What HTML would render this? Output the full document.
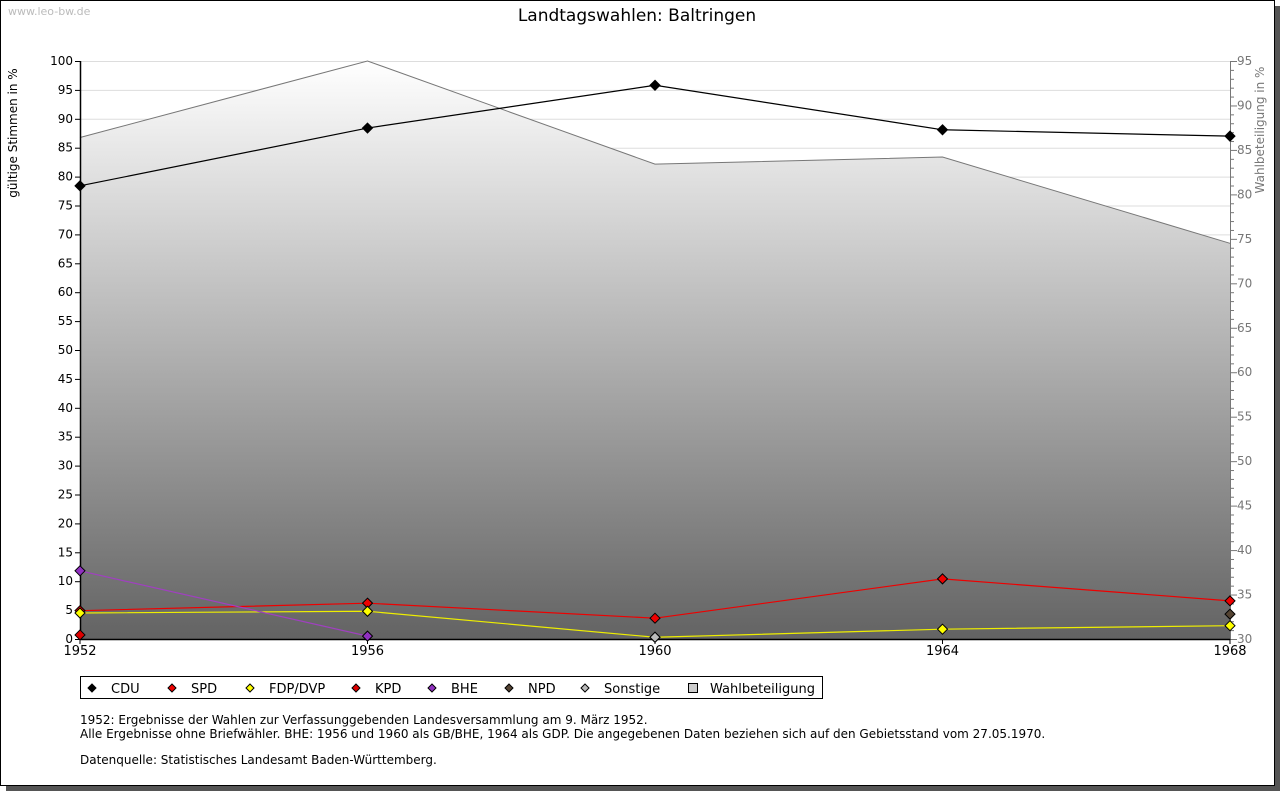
<!DOCTYPE html>
<html><head><meta charset="utf-8"><style>
body{margin:0;background:#fff;width:1280px;height:791px;overflow:hidden;font-family:"DejaVu Sans","Liberation Sans",sans-serif}
svg text{font-family:"DejaVu Sans","Liberation Sans",sans-serif}
</style></head><body>
<svg id="c" width="1280" height="791">
<defs><linearGradient id="g" x1="0" y1="61" x2="0" y2="639" gradientUnits="userSpaceOnUse"><stop offset="0" stop-color="#ffffff"/><stop offset="1" stop-color="#636363"/></linearGradient></defs>
<rect x="6" y="6" width="1274" height="785" fill="#555"/>
<rect x="0.5" y="0.5" width="1274" height="785" fill="#fff" stroke="#000"/>
<text x="8" y="15" font-size="11" fill="#bbb">www.leo-bw.de</text>
<text x="637" y="21" font-size="17" text-anchor="middle">Landtagswahlen: Baltringen</text>
<g id="grid"></g>
<g id="area"></g>
<g id="axes"></g>
<g id="series"></g>
<text transform="translate(17,133) rotate(-90)" font-size="12" text-anchor="middle">gültige Stimmen in %</text>
<text transform="translate(1264,130) rotate(-90)" font-size="12" fill="#777" text-anchor="middle">Wahlbeteiligung in %</text>
<g>
<rect x="80.5" y="676.5" width="742" height="22" fill="#fff" stroke="#000"/>
<g id="legend"></g>
</g>
<text x="80" y="724" font-size="12">1952: Ergebnisse der Wahlen zur Verfassunggebenden Landesversammlung am 9. März 1952.</text>
<text x="80" y="738" font-size="12">Alle Ergebnisse ohne Briefwähler. BHE: 1956 und 1960 als GB/BHE, 1964 als GDP. Die angegebenen Daten beziehen sich auf den Gebietsstand vom 27.05.1970.</text>
<text x="80" y="764" font-size="12">Datenquelle: Statistisches Landesamt Baden-Württemberg.</text>
</svg>
<script>
const years=[1952,1956,1960,1964,1968];
const cdu=[78.4,88.4,95.8,88.1,87.0];
const spd=[4.9,6.2,3.6,10.4,6.6];
const fdp=[4.5,4.8,0.3,1.7,2.3];
const kpd=[0.7,null,null,null,null];
const bhe=[11.8,0.5,null,null,null];
const npd=[null,null,null,null,4.3];
const sonst=[null,null,0.3,null,null];
const turnout=[86.4,95.0,83.4,84.2,74.5];
const leftTicks=[0,5,10,15,20,25,30,35,40,45,50,55,60,65,70,75,80,85,90,95,100];
const rightTicks=[30,35,40,45,50,55,60,65,70,75,80,85,90,95];
const NS='http://www.w3.org/2000/svg';
const X0=80,X1=1230,Y0=639,Y1=61;
const x=yr=>X0+(yr-1952)/(1968-1952)*(X1-X0);
const y=v=>Y0-v/100*(Y0-Y1);
const y2=v=>Y0-(v-30)/65*(Y0-Y1);
function mk(t,a,p){const e=document.createElementNS(NS,t);for(const k in a)e.setAttribute(k,a[k]);p.appendChild(e);return e;}
const grid=document.getElementById('grid'),axes=document.getElementById('axes'),ser=document.getElementById('series'),area=document.getElementById('area');
leftTicks.forEach(v=>{
 const l=mk('line',{x1:X0,x2:X1,y1:y(v)+.5,y2:y(v)+.5,stroke:'#ddd'},grid);
 
 
 mk('line',{x1:X0-5,x2:X0,y1:y(v)+.5,y2:y(v)+.5,stroke:'#000'},axes);
 const t=mk('text',{x:X0-7,y:y(v)+4,'font-size':12,'text-anchor':'end'},axes);t.textContent=v;
 
 
});
for(let v=30;v<=95;v++){mk('line',{x1:X1,x2:X1+(v%5?4:7),y1:y2(v)+.5,y2:y2(v)+.5,stroke:'#777'},axes);}
rightTicks.forEach(v=>{const t=mk('text',{x:X1+7,y:y2(v)+4,'font-size':12,fill:'#777'},axes);t.textContent=v;
 
 });
let pts=years.map((yr,i)=>x(yr)+','+y2(turnout[i])).join(' ');
const ar=mk('polygon',{points:X0+','+Y0+' '+pts+' '+X1+','+Y0,fill:'url(#g)',stroke:'none'},area);


const tl=mk('polyline',{points:pts,fill:'none',stroke:'#777'},area);


mk('line',{x1:X0+.5,x2:X0+.5,y1:Y1,y2:Y0,stroke:'#000','stroke-width':1.5},axes);
mk('line',{x1:X1+.5,x2:X1+.5,y1:Y1,y2:Y0,stroke:'#777'},axes);
mk('line',{x1:X0,x2:X1,y1:Y0+.5,y2:Y0+.5,stroke:'#000','stroke-width':1.5},axes);
years.forEach(yr=>{mk('line',{x1:x(yr),x2:x(yr),y1:Y0,y2:Y0+5,stroke:'#000'},axes);
 const t=mk('text',{x:x(yr),y:Y0+16,'font-size':13,'text-anchor':'middle'},axes);t.textContent=yr;
 
 });
const S=[['cdu',cdu,'#000','#000'],['spd',spd,'#e00','#e00'],['fdp',fdp,'#ee0','#ff0'],['kpd',kpd,'#c00','#d00'],['bhe',bhe,'#a040c0','#9030c0'],['npd',npd,'#543','#543'],['sonstige',sonst,'#bbb','#bbb']];
S.forEach(([n,d,lc,fc])=>{
 const g=mk('g',{},ser);
 
 
 const p=[];d.forEach((v,i)=>{if(v!==null)p.push(x(years[i])+','+y(v));});
 if(p.length>1)mk('polyline',{points:p.join(' '),fill:'none',stroke:lc,'stroke-width':1.2},g);
 d.forEach((v,i)=>{if(v===null)return;const cx=x(years[i]),cy=y(v);
  const m=mk('polygon',{points:`${cx},${cy-5} ${cx+5},${cy} ${cx},${cy+5} ${cx-5},${cy}`,fill:fc,stroke:'#000','stroke-width':1},g);
  
  });
});
const L=[['CDU','#000',92],['SPD','#e00',172],['FDP/DVP','#ff0',250],['KPD','#d00',356],['BHE','#9030c0',432],['NPD','#543',509],['Sonstige','#bbb',585]];
const lg=document.getElementById('legend');
L.forEach(([n,c,lx])=>{const cy=688;
 const m=mk('polygon',{points:`${lx},${cy-4} ${lx+4},${cy} ${lx},${cy+4} ${lx-4},${cy}`,fill:c,stroke:'#000'},lg);
 
 
 const t=mk('text',{x:lx+19,y:cy+5,'font-size':13},lg);t.textContent=n;
 
 });
const r=mk('rect',{x:688.5,y:683.5,width:9,height:9,fill:'#ccc',stroke:'#000'},lg);


const t=mk('text',{x:710,y:693,'font-size':13},lg);t.textContent='Wahlbeteiligung';


</script>
</body></html>
